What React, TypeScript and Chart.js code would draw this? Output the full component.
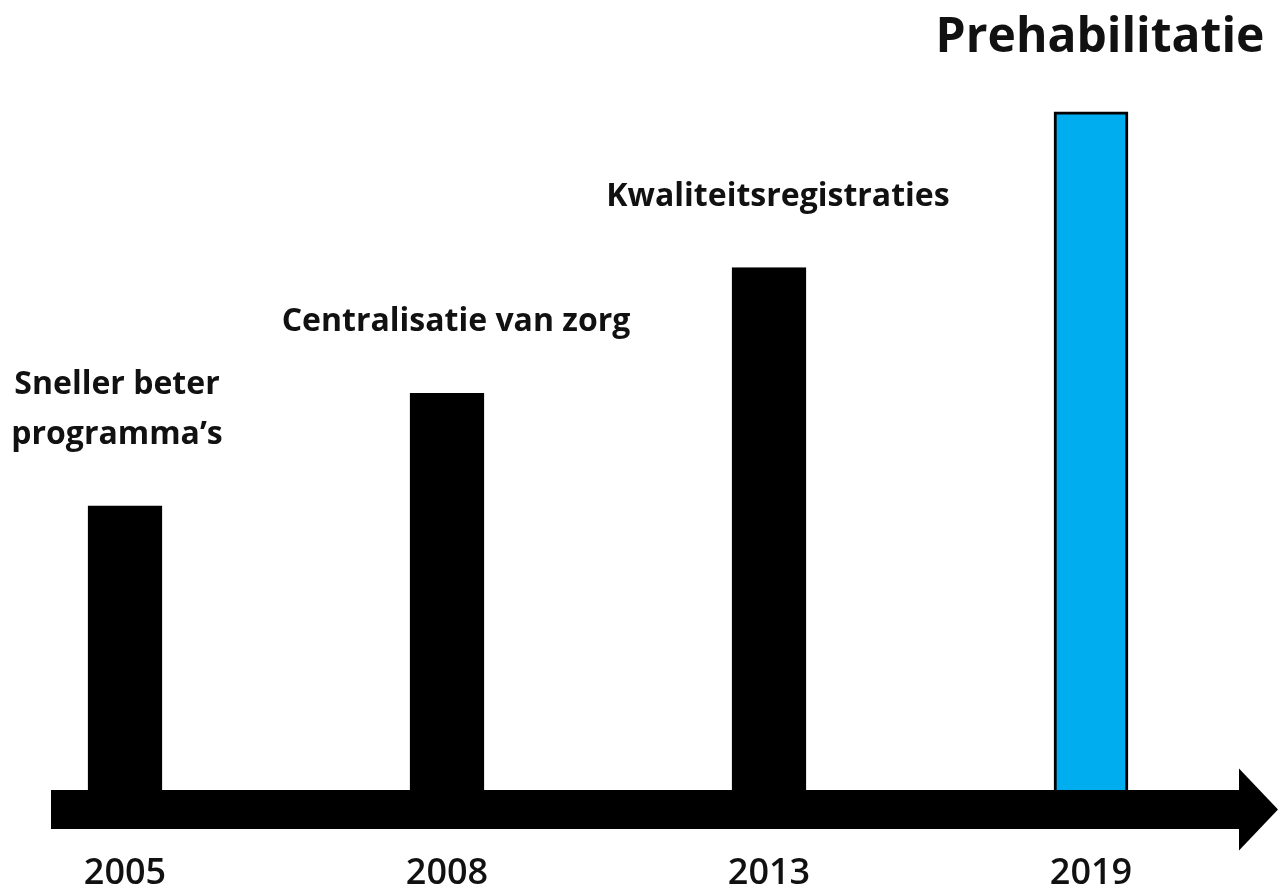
import React, { useEffect, useRef } from "react";
import { Chart, registerables } from "chart.js";

Chart.register(...registerables);

const years = ["2005", "2008", "2013", "2019"];
const heights = [41.2, 57.5, 75.7, 98.3];
const milestones = [
  ["Sneller beter", "programma’s"],
  ["Centralisatie van zorg"],
  ["Kwaliteitsregistraties"],
  ["Prehabilitatie"],
];
const barColors = ["#000000", "#000000", "#000000", "#00AEEF"];
const highlightIndex = 3;

const arrowPlugin = {
  id: "timelineArrow",
  afterDatasetsDraw(chart: any) {
    const { ctx, chartArea, width } = chart;
    const top = chartArea.bottom;
    const thick = 39;
    const mid = top + thick / 2;
    const headLen = 39;
    const headHalf = 41;
    const left = chartArea.left - 74;
    ctx.save();
    ctx.fillStyle = "#000";
    ctx.fillRect(left, top, width - headLen - left, thick);
    ctx.beginPath();
    ctx.moveTo(width - headLen, mid - headHalf);
    ctx.lineTo(width, mid);
    ctx.lineTo(width - headLen, mid + headHalf);
    ctx.closePath();
    ctx.fill();
    ctx.restore();
  },
};

const labelPlugin = {
  id: "milestoneLabels",
  afterDatasetsDraw(chart: any) {
    const { ctx } = chart;
    const meta = chart.getDatasetMeta(0);
    ctx.save();
    ctx.fillStyle = "#111";
    ctx.textAlign = "center";
    ctx.textBaseline = "alphabetic";
    meta.data.forEach((bar: any, i: number) => {
      const lines = milestones[i];
      const big = i === highlightIndex;
      ctx.font = big ? "bold 48px 'Open Sans'" : "bold 32px 'Open Sans'";
      const lineH = 50;
      const baseY = bar.y - (big ? 60 : 62);
      const dx = i === 0 ? -8 : 9;
      lines.forEach((t: string, j: number) => {
        const y = baseY - (lines.length - 1 - j) * lineH;
        ctx.fillText(t, bar.x + dx, y);
      });
    });
    ctx.restore();
  },
};

export default function App() {
  const ref = useRef<HTMLCanvasElement>(null);
  useEffect(() => {
    document.body.style.margin = "0";
    const chart = new Chart(ref.current!, {
      type: "bar",
      data: {
        labels: years,
        datasets: [
          {
            data: heights,
            backgroundColor: barColors,
            borderColor: "#000",
            borderWidth: 3,
            barThickness: 74,
            clip: false as any,
          },
        ],
      },
      options: {
        responsive: false,
        animation: false,
        layout: { padding: { left: 125, right: 187, top: 100, bottom: 0 } },
        plugins: { legend: { display: false }, tooltip: { enabled: false } },
        scales: {
          x: {
            offset: false,
            grid: { display: false, drawTicks: false },
            border: { display: false },
            afterFit: (scale: any) => {
              scale.height = 105;
            },
            ticks: {
              autoSkip: false,
              maxRotation: 0,
              padding: 62,
              color: "#111",
              font: { family: "Open Sans", weight: "600", size: 36 },
            },
          },
          y: { display: false, min: 0, max: 100 },
        },
      },
      plugins: [arrowPlugin, labelPlugin],
    });
    return () => chart.destroy();
  }, []);
  return (
    <div style={{ position: "absolute", left: 0, top: 0, width: 1278, height: 895, background: "#fff" }}>
      <canvas ref={ref} width={1278} height={895} style={{ display: "block" }} />
    </div>
  );
}
